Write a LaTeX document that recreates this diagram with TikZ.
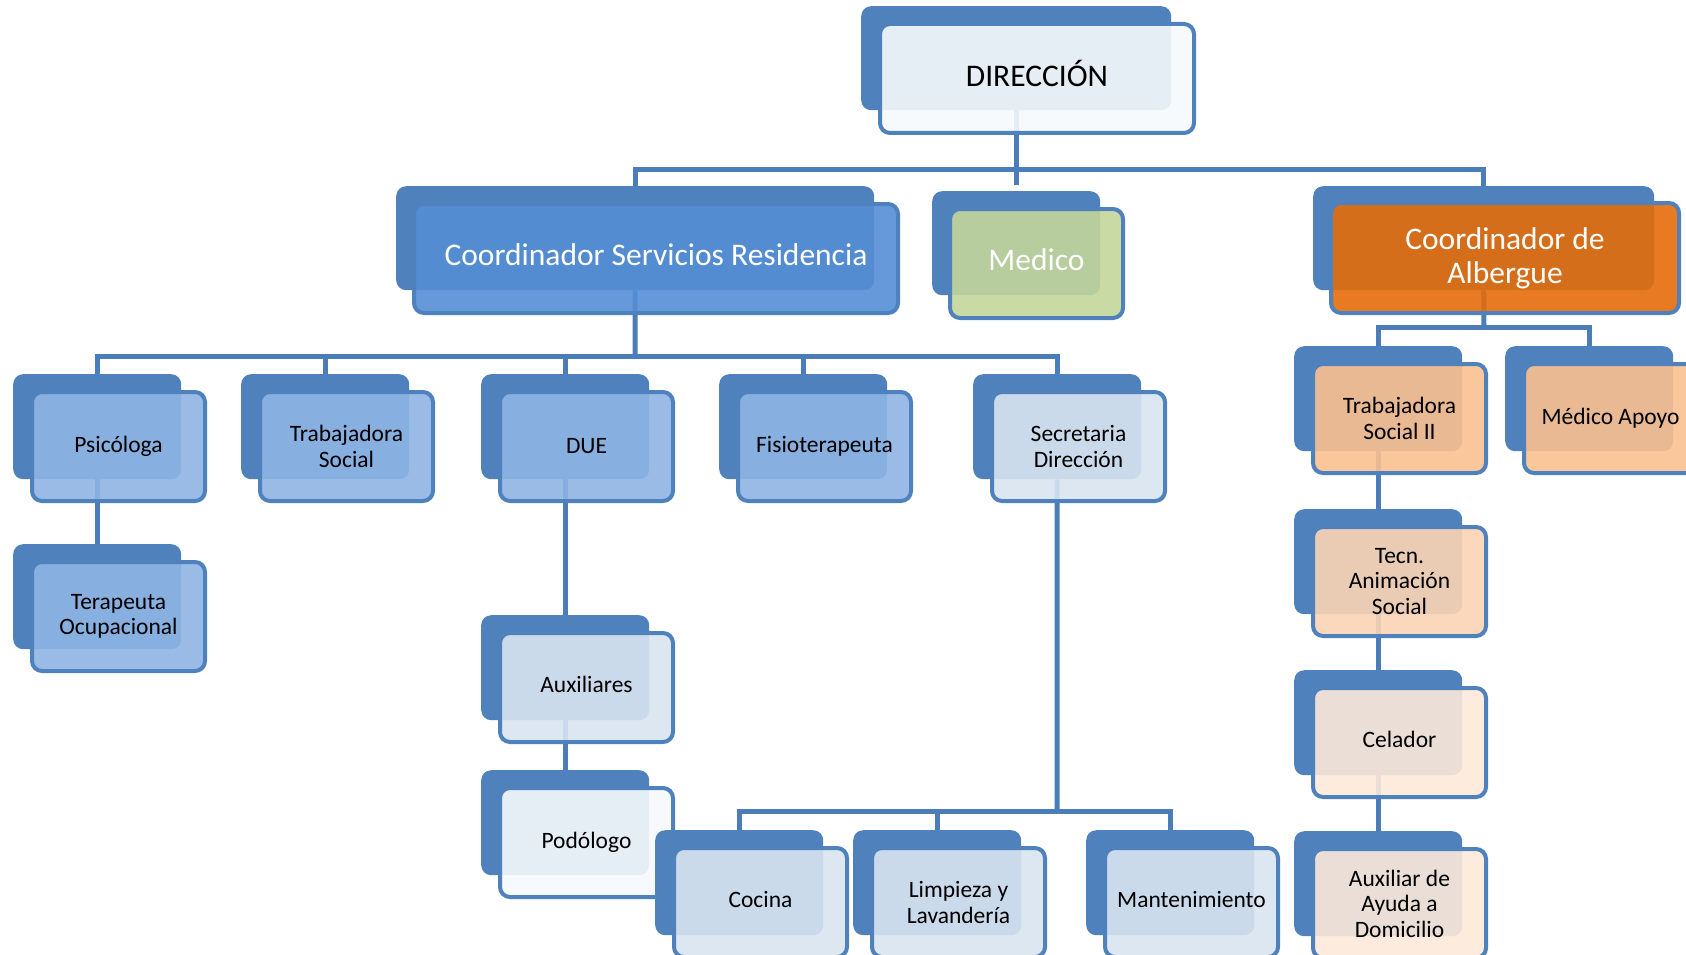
\documentclass[tikz,border=0pt]{standalone}
\usepackage{fontspec}
\setmainfont{Carlito}
\usepackage{xcolor}
\usepackage{tikz}
\usetikzlibrary{backgrounds}

\definecolor{boxblue}{HTML}{4F81BD}
\definecolor{lineblue}{HTML}{4A7DBA}
\definecolor{dirfill}{HTML}{F6F9FC}
\definecolor{coordfill}{HTML}{558ED5}
\definecolor{medfill}{HTML}{C3D69B}
\definecolor{albfill}{HTML}{E46C0A}
\definecolor{midfill}{HTML}{8EB4E3}
\definecolor{lowfill}{HTML}{D9E4F1}
\definecolor{peach}{HTML}{FAC090}
\definecolor{peachlt}{HTML}{FBD4B4}
\definecolor{cream}{HTML}{FDE9D9}

\tikzset{
  backbox/.style={rounded corners=10pt, fill=boxblue, anchor=north west, inner sep=0pt},
  backsmall/.style={backbox, minimum width=168pt, minimum height=105pt},
  frontbox/.style={rounded corners=10pt, draw=boxblue, line width=4pt, fill opacity=0.9,
    text opacity=1, anchor=north west, inner sep=0pt, align=center},
  frontsmall/.style={frontbox, minimum width=173pt, minimum height=109pt,
    font=\fontsize{23.5}{25.5}\selectfont},
  bigtext/.style={font=\fontsize{31.5}{34}\selectfont},
  nodesc/.style={text depth=#1},
  orgline/.style={draw=lineblue, line width=5pt}
}

\begin{document}
\begin{tikzpicture}[x=1pt,y=-1pt]
  \useasboundingbox (0,0) rectangle (1686,955);
  \clip (0,0) rectangle (1686,955);

  % top level
  \node[backbox, minimum width=310pt, minimum height=104pt] (dir-b) at (861,6) {};
  \node[frontbox, bigtext, nodesc=11pt, fill=dirfill, minimum width=314pt, minimum height=109pt] (dir) at (878,22) {DIRECCIÓN};

  \node[backbox, minimum width=478pt, minimum height=104pt] (coord-b) at (396,186) {};
  \node[frontbox, bigtext, nodesc=7pt, text=white, fill=coordfill, minimum width=484pt, minimum height=109pt] (coord) at (412,202) {Coordinador Servicios Residencia};

  \node[backbox, minimum width=168pt, minimum height=104pt] (medico-b) at (932,191) {};
  \node[frontbox, bigtext, nodesc=7pt, text=white, fill=medfill, minimum width=173pt, minimum height=109pt] (medico) at (948,207) {Medico};

  \node[backbox, minimum width=341pt, minimum height=104pt] (albergue-b) at (1313,186) {};
  \node[frontbox, bigtext, text=white, fill=albfill, minimum width=348pt, minimum height=110pt] (albergue) at (1329,201) {Coordinador de\\Albergue};

  % residencia
  \node[backsmall] (psico-b) at (13,374) {};
  \node[frontsmall, fill=midfill] (psico) at (30,390) {Psicóloga};
  \node[backsmall] (trab-b) at (241,374) {};
  \node[frontsmall, fill=midfill] (trab) at (258,390) {Trabajadora\\Social};
  \node[backsmall] (due-b) at (481,374) {};
  \node[frontsmall, fill=midfill] (due) at (498,390) {DUE};
  \node[backsmall] (fisio-b) at (719,374) {};
  \node[frontsmall, fill=midfill] (fisio) at (736,390) {Fisioterapeuta};
  \node[backsmall] (secre-b) at (973,374) {};
  \node[frontsmall, fill=lowfill] (secre) at (990,390) {Secretaria\\Dirección};

  \node[backsmall] (terap-b) at (13,544) {};
  \node[frontsmall, fill=midfill] (terap) at (30,560) {Terapeuta\\Ocupacional};
  \node[backsmall] (aux-b) at (481,615) {};
  \node[frontsmall, nodesc=6pt, fill=lowfill] (aux) at (498,631) {Auxiliares};
  \node[backsmall] (podo-b) at (481,770) {};
  \node[frontsmall, fill=dirfill] (podo) at (498,786) {Podólogo};

  \node[backsmall] (cocina-b) at (655,830) {};
  \node[frontsmall, nodesc=6pt, fill=lowfill] (cocina) at (672,846) {Cocina};
  \node[backsmall] (limp-b) at (853,830) {};
  \node[frontsmall, fill=lowfill] (limp) at (870,846) {Limpieza y\\Lavandería};
  \node[backsmall] (mant-b) at (1086,830) {};
  \node[frontsmall, nodesc=6pt, fill=lowfill] (mant) at (1103,846) {Mantenimiento};

  % albergue
  \node[backsmall] (trab2-b) at (1294,346) {};
  \node[frontsmall, fill=peach] (trab2) at (1311,362) {Trabajadora\\Social II};
  \node[backsmall] (medap-b) at (1505,346) {};
  \node[frontsmall, fill=peach] (medap) at (1522,362) {Médico Apoyo};
  \node[backsmall] (tecn-b) at (1294,509) {};
  \node[frontsmall, fill=peachlt] (tecn) at (1311,525) {Tecn.\\Animación\\Social};
  \node[backsmall] (celador-b) at (1294,670) {};
  \node[frontsmall, nodesc=6pt, fill=cream] (celador) at (1311,686) {Celador};
  \node[backsmall] (ayuda-b) at (1294,831) {};
  \node[frontsmall, fill=cream] (ayuda) at (1311,847) {Auxiliar de\\Ayuda a\\Domicilio};

  % connectors
  \coordinate (bus1) at (1016,169);
  \coordinate (bus2) at (635,356);
  \coordinate (bus3) at (1057,811);
  \coordinate (bus4) at (1484,327);
  \begin{scope}[on background layer]
    \draw[orgline, shorten >=6pt] (dir-b.south) -- (medico-b.north);
    \draw[orgline] (coord-b.north) |- (bus1) -| (albergue-b.north);

    \draw[orgline] (coord-b.south) -- (bus2);
    \draw[orgline] (psico-b.north) |- (bus2) -| (secre-b.north);
    \draw[orgline] (trab-b.north) -- (trab-b.north |- bus2);
    \draw[orgline] (due-b.north) -- (due-b.north |- bus2);
    \draw[orgline] (fisio-b.north) -- (fisio-b.north |- bus2);
    \draw[orgline] (psico-b.south) -- (terap-b.north);
    \draw[orgline] (due-b.south) -- (aux-b.north);
    \draw[orgline] (aux-b.south) -- (podo-b.north);

    \draw[orgline] (secre-b.south) -- (bus3);
    \draw[orgline] (cocina-b.north) |- (bus3) -| (mant-b.north);
    \draw[orgline] (limp-b.north) -- (limp-b.north |- bus3);

    \draw[orgline] (albergue-b.south) -- (bus4);
    \draw[orgline] (trab2-b.north) |- (bus4) -| (medap-b.north);
    \draw[orgline] (trab2-b.south) -- (tecn-b.north);
    \draw[orgline] (tecn-b.south) -- (celador-b.north);
    \draw[orgline] (celador-b.south) -- (ayuda-b.north);
  \end{scope}
\end{tikzpicture}
\end{document}
